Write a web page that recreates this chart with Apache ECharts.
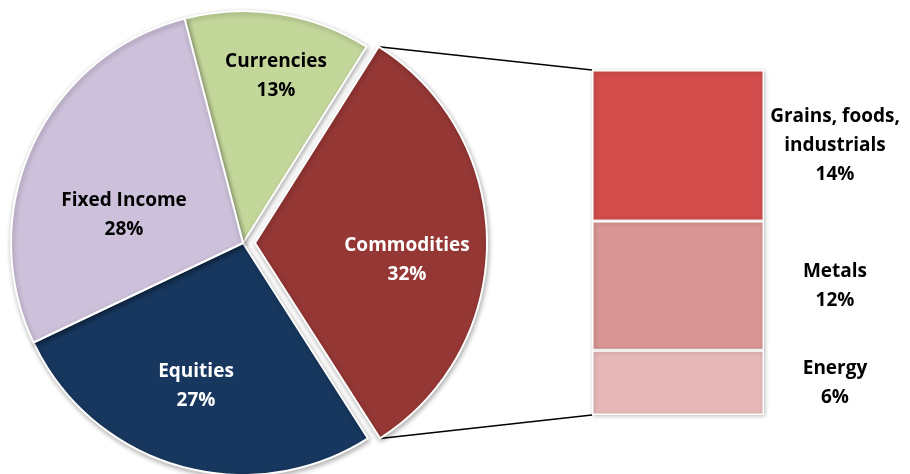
<!DOCTYPE html>
<html>
<head>
<meta charset="utf-8">
<script src="https://cdn.jsdelivr.net/npm/echarts@6/dist/echarts.min.js"></script>
<style>
html,body{margin:0;padding:0;background:#fff;}
#chart{width:910px;height:474px;}
</style>
</head>
<body>
<div id="chart"></div>
<script>
// ---- data ----
const pieCategories = ['Currencies', 'Commodities', 'Equities', 'Fixed Income'];
const pieValues = [13, 32, 27, 28];
const barCategories = ['Grains, foods,\nindustrials', 'Metals', 'Energy'];
const barValues = [14, 12, 6];

// ---- styles / layout ----
const pieColors = ['#C4D79B', '#953735', '#17375E', '#CCC0DA'];
const pieLabelColors = ['#000', '#fff', '#fff', '#000'];
const pieLabelPos = [[276, 76], [407, 260], [196, 386], [124, 215]];
const barColors = ['#D24C4C', '#D99694', '#E6B9B8'];
const explodedIndex = 1;
const PIE_CENTER = [243, 243];
const PIE_R = 232;
const START_ANGLE = 104.6;
const OFFSET = 12;
const FONT = '"Open Sans", "Noto Sans", sans-serif';
const FONT_SIZE = 19;
const LINE_H = 29;

const chart = echarts.init(document.getElementById('chart'), null, {renderer: 'canvas'});

// geometry of the exploded slice
const total = pieValues.reduce((a, b) => a + b, 0);
const before = pieValues.slice(0, explodedIndex).reduce((a, b) => a + b, 0);
const base = 90 - START_ANGLE; // clockwise from top, degrees
const a0 = base + before / total * 360;
const a1 = a0 + pieValues[explodedIndex] / total * 360;
const am = (a0 + a1) / 2;
const rad = d => d * Math.PI / 180;
const cx = PIE_CENTER[0] + OFFSET * Math.sin(rad(am));
const cy = PIE_CENTER[1] - OFFSET * Math.cos(rad(am));

const baseLabel = {
  show: true,
  position: 'inside',
  formatter: '{b}\n{c}%',
  fontFamily: FONT,
  fontWeight: 'bold',
  fontSize: FONT_SIZE,
  lineHeight: LINE_H,
  align: 'center'
};
const sliceStyle = {
  borderColor: '#fff',
  borderWidth: 2,
  shadowBlur: 5,
  shadowColor: 'rgba(0,0,0,0.3)',
  shadowOffsetX: 1,
  shadowOffsetY: 2
};
const hidden = {itemStyle: {color: 'rgba(0,0,0,0)', borderWidth: 0, shadowBlur: 0, shadowColor: 'rgba(0,0,0,0)'}, label: {show: false}};

function makeData(showExploded) {
  return pieCategories.map((n, i) => {
    const isEx = i === explodedIndex;
    if (isEx !== showExploded) return Object.assign({name: n, value: pieValues[i]}, hidden);
    return {name: n, value: pieValues[i], itemStyle: {color: pieColors[i]}, label: {color: pieLabelColors[i]}};
  });
}

function labelLayout(p) {
  const pos = pieLabelPos[p.dataIndex];
  return {x: pos[0], y: pos[1]};
}

function pieSeries(center, showExploded) {
  return {
    type: 'pie',
    center: center,
    radius: PIE_R,
    startAngle: START_ANGLE,
    clockwise: true,
    silent: true,
    emphasis: {disabled: true},
    itemStyle: sliceStyle,
    label: baseLabel,
    labelLine: {show: false},
    labelLayout: labelLayout,
    data: makeData(showExploded)
  };
}

const barSeries = barCategories.map((n, i) => ({
  type: 'bar',
  name: n,
  stack: 'c',
  barWidth: '100%',
  data: [barValues[i]],
  itemStyle: {
    color: barColors[i],
    borderColor: '#fff',
    borderWidth: 1.5,
    shadowBlur: 4,
    shadowColor: 'rgba(0,0,0,0.25)',
    shadowOffsetX: 1,
    shadowOffsetY: 1
  },
  label: {
    show: true,
    position: [243, '50%'],
    align: 'center',
    verticalAlign: 'middle',
    formatter: n + '\n' + barValues[i] + '%',
    fontFamily: FONT,
    fontWeight: 'bold',
    fontSize: FONT_SIZE,
    lineHeight: LINE_H,
    color: '#000'
  },
  silent: true
}));

chart.setOption({
  animation: false,
  backgroundColor: '#fff',
  grid: {left: 592, top: 70, width: 172, height: 345},
  xAxis: {type: 'category', data: ['Commodities'], show: false},
  yAxis: {type: 'value', min: 0, max: total ? barValues.reduce((a, b) => a + b, 0) : 0, inverse: true, show: false},
  series: [
    pieSeries(PIE_CENTER, false),
    pieSeries([cx, cy], true)
  ].concat(barSeries)
});

// connector lines from exploded slice edges to the bar corners
const barTotal = barValues.reduce((a, b) => a + b, 0);
const p0 = [cx + PIE_R * Math.sin(rad(a0)), cy - PIE_R * Math.cos(rad(a0))];
const p1 = [cx + PIE_R * Math.sin(rad(a1)), cy - PIE_R * Math.cos(rad(a1))];
const gridRect = chart.getModel().getComponent('grid').coordinateSystem.getRect();
const yTop = chart.convertToPixel({yAxisIndex: 0}, 0);
const yBot = chart.convertToPixel({yAxisIndex: 0}, barTotal);

chart.setOption({
  graphic: [
    {type: 'line', shape: {x1: p0[0], y1: p0[1], x2: gridRect.x, y2: yTop}, style: {stroke: '#000', lineWidth: 1.5}, z: 1},
    {type: 'line', shape: {x1: p1[0], y1: p1[1], x2: gridRect.x, y2: yBot}, style: {stroke: '#000', lineWidth: 1.5}, z: 1}
  ]
});
</script>
</body>
</html>
